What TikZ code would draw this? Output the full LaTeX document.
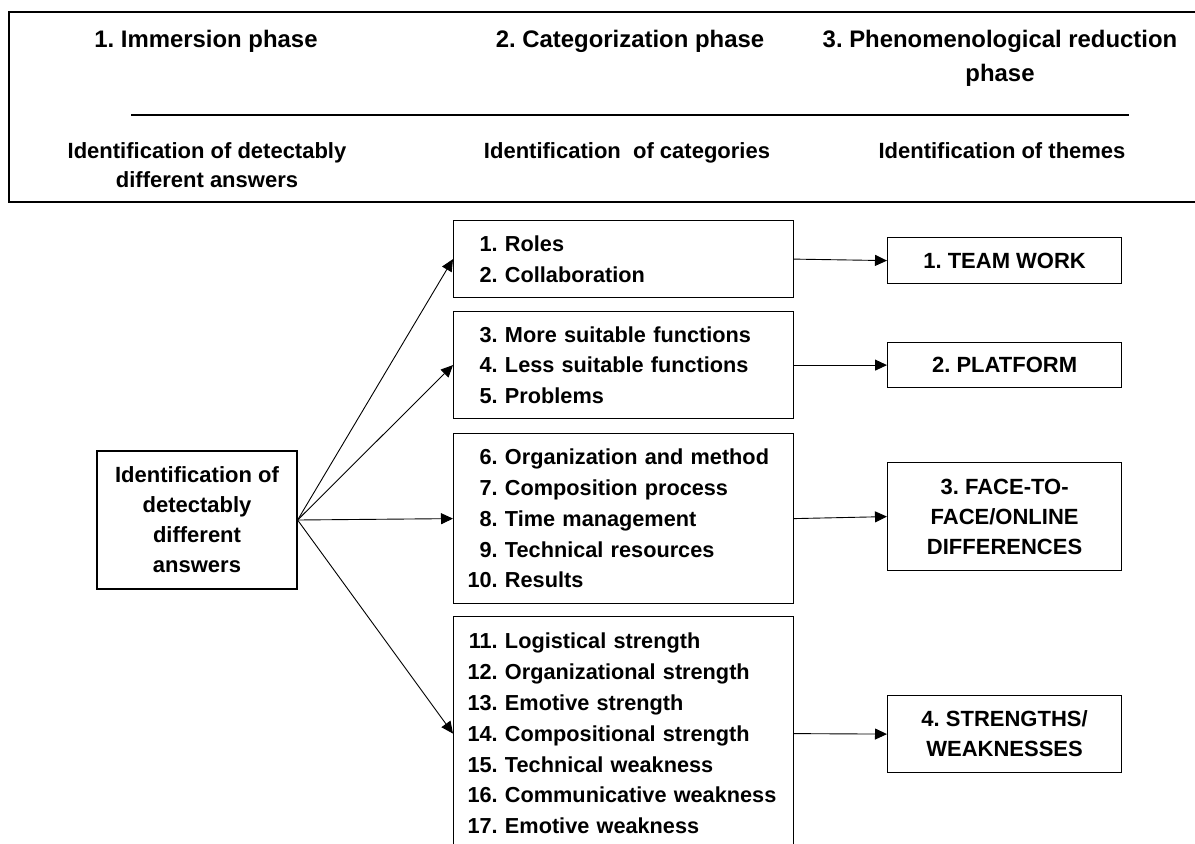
\documentclass[tikz,border=0pt]{standalone}
\usepackage{fontspec}
\setmainfont{Liberation Sans}
\usetikzlibrary{arrows.meta}
\newcommand\catnum[1]{\makebox[\dimexpr1.39em+9pt\relax][r]{#1.}\ }

\begin{document}
\frenchspacing
\begin{tikzpicture}[x=1pt,y=-1pt,line width=1.2pt,>={Triangle[length=12pt,width=11pt]},
  hdr/.style={font=\fontsize{23.9}{34}\selectfont\bfseries,align=center},
  idn/.style={font=\fontsize{22}{29}\selectfont\bfseries,align=center},
  catbox/.style={draw,anchor=north west,text width=330pt,inner xsep=5pt,inner ysep=0pt,
    align=left,font=\fontsize{21.7}{30.8}\selectfont\bfseries},
  thmbox/.style={draw,anchor=north west,minimum width=234pt,inner sep=0pt,align=center,
    font=\fontsize{22}{30}\selectfont\bfseries},
  conn/.style={->,line width=0.9pt}]
  \useasboundingbox (0,0) rectangle (1195,844);
  % cabecera con las tres fases
  \draw (1196,12) -| (9,202) -- (1196,202);
  \node[hdr,anchor=base] (ph1) at (206,47) {1. Immersion phase};
  \node[hdr,anchor=base] (ph2) at (630,47) {2. Categorization phase};
  \node[hdr] (ph3) at (1000,58) {3. Phenomenological reduction\\phase};
  \draw[line width=2.2pt] (131,115) -- (1129,115);
  \node[idn] (id1) at (207,165) {Identification of detectably\\different answers};
  \node[idn,anchor=base] (id2) at (627,158) {Identification\ \ of categories};
  \node[idn,anchor=base] (id3) at (1002,158) {Identification of themes};

  % respuestas
  \node[draw,minimum width=200pt,minimum height=138pt,align=center,
    font=\fontsize{22}{30}\selectfont\bfseries] (ans) at (197,520)
    {Identification of\\detectably\\different\\answers};

  % categorias
  \node[catbox,minimum height=77pt] (cat1) at (453,220)
    {\catnum{1}Roles\\\catnum{2}Collaboration};
  \node[catbox,minimum height=107pt] (cat2) at (453,311)
    {\catnum{3}More suitable functions\\\catnum{4}Less suitable functions\\\catnum{5}Problems};
  \node[catbox,minimum height=170pt] (cat3) at (453,433)
    {\catnum{6}Organization and method\\\catnum{7}Composition process\\\catnum{8}Time management\\
     \catnum{9}Technical resources\\\catnum{10}Results};
  \node[catbox,minimum height=234pt] (cat4) at (453,616)
    {\catnum{11}Logistical strength\\\catnum{12}Organizational strength\\\catnum{13}Emotive strength\\
     \catnum{14}Compositional strength\\\catnum{15}Technical weakness\\\catnum{16}Communicative weakness\\
     \catnum{17}Emotive weakness};

  % temas
  \node[thmbox,minimum height=46pt] (thm1) at (887,237) {1. TEAM WORK};
  \node[thmbox,minimum height=45pt] (thm2) at (887,342) {2. PLATFORM};
  \node[thmbox,minimum height=108pt] (thm3) at (887,462) {3. FACE-TO-\\FACE/ONLINE\\DIFFERENCES};
  \node[thmbox,minimum height=77pt] (thm4) at (887,695) {4. STRENGTHS/\\WEAKNESSES};

  \foreach \i in {1,...,4}{
    \draw[conn] (ans.east) -- (cat\i.west);
    \draw[conn] (cat\i.east) -- (thm\i.west);
  }
\end{tikzpicture}
\end{document}
